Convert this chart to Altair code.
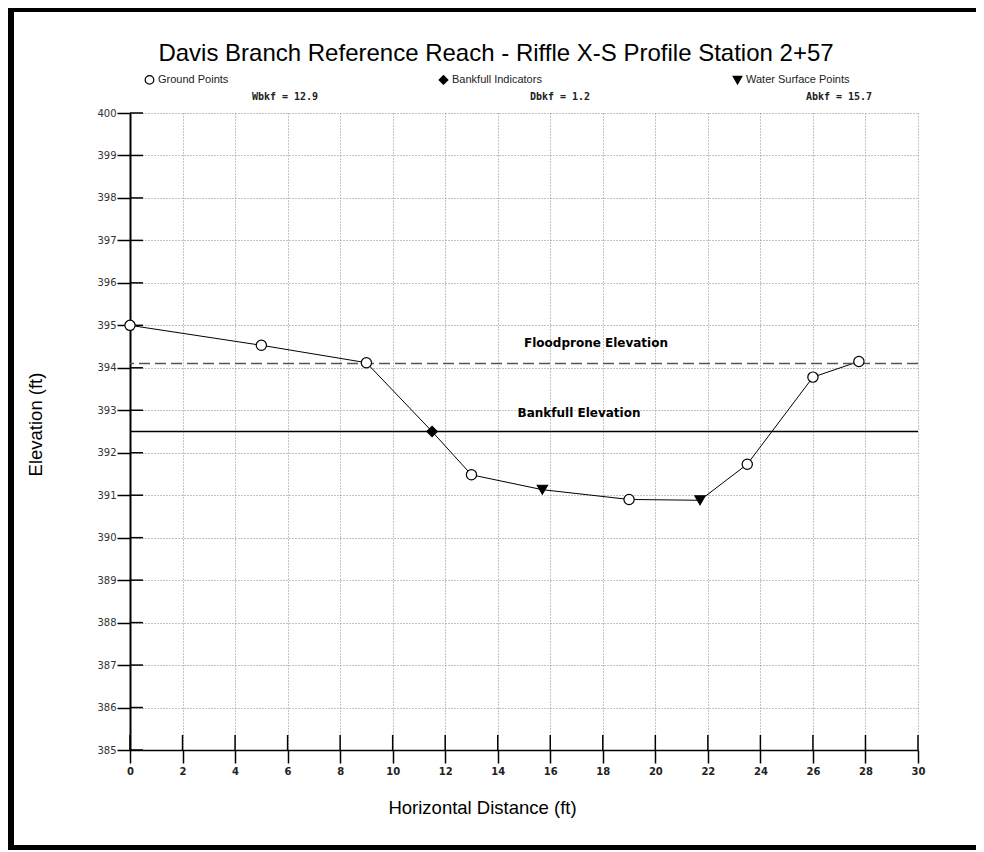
import altair as alt
import pandas as pd

# ---- data ----
station = [0, 5, 9, 11.5, 13.0, 15.7, 19.0, 21.7, 23.5, 26.0, 27.75]
elevation = [395.0, 394.53, 394.12, 392.5, 391.48, 391.13, 390.9, 390.88, 391.73, 393.78, 394.15]
point_type = ["Ground Points", "Ground Points", "Ground Points", "Bankfull Indicators",
              "Ground Points", "Water Surface Points", "Ground Points", "Water Surface Points",
              "Ground Points", "Ground Points", "Ground Points"]
legend_order = ["Ground Points", "Bankfull Indicators", "Water Surface Points"]
floodprone_elev = 394.1
bankfull_elev = 392.5
x_ticks = list(range(0, 31, 2))
y_ticks = list(range(385, 401))
stats = ["Wbkf = 12.9", "Dbkf = 1.2", "Abkf = 15.7"]
title_text = "Davis Branch Reference Reach - Riffle X-S Profile Station 2+57"

W, H = 788, 637
PAD = {"left": 122, "top": 105, "right": 58, "bottom": 100}

prof = pd.DataFrame({"station": station, "elevation": elevation, "type": point_type})

xs = alt.Scale(domain=[0, 30], nice=False, zero=False)
ys = alt.Scale(domain=[385, 400], nice=False, zero=False)

X_main = alt.X("station:Q", scale=xs, axis=alt.Axis(
    values=x_ticks, title="Horizontal Distance (ft)", grid=True,
    gridDash=[1, 2], gridColor="#888888", gridWidth=1,
    domainColor="black", domainWidth=1.5,
    tickColor="black", tickSize=13, tickWidth=1.5,
    labelPadding=3, labelFont="DejaVu Sans", labelFontSize=10, labelFontWeight="bold",
    labelColor="#222222", labelFlush=False,
    titleFont="Liberation Sans", titleFontSize=18.5, titleFontWeight="normal", titleColor="black",
    titleX=352, titleY=57, titleBaseline="middle"))
Y_main = alt.Y("elevation:Q", scale=ys, axis=alt.Axis(
    values=y_ticks, format="d", title="Elevation (ft)", grid=True,
    gridDash=[1, 2], gridColor="#888888", gridWidth=1,
    domainColor="black", domainWidth=2,
    tickColor="black", tickSize=13, tickWidth=1.5,
    labelPadding=1, labelFont="DejaVu Sans", labelFontSize=10,
    labelColor="#333333", labelFlush=False,
    titleFont="Liberation Sans", titleFontSize=18.5, titleFontWeight="normal", titleColor="black",
    titleX=-95, titleY=311, titleBaseline="middle", titleAngle=270))
X = alt.X("station:Q", scale=xs)
Y = alt.Y("elevation:Q", scale=ys)

line = alt.Chart(prof).mark_line(color="black", strokeWidth=1).encode(x=X_main, y=Y_main)

leg = alt.Legend(title=None, orient="none", legendX=14, legendY=-39, direction="horizontal",
                 columns=3, gridAlign="all", columnPadding=174,
                 labelFont="Liberation Sans", labelFontSize=11, labelColor="#222222",
                 symbolSize=75, symbolStrokeColor="black", symbolStrokeWidth=1.2, labelOffset=3)
points = alt.Chart(prof).mark_point(filled=True, stroke="black", strokeWidth=1.2, size=105, opacity=1).encode(
    x=X, y=Y,
    shape=alt.Shape("type:N", scale=alt.Scale(domain=legend_order,
                                              range=["circle", "diamond", "triangle-down"]), legend=leg),
    fill=alt.Fill("type:N", scale=alt.Scale(domain=legend_order,
                                            range=["white", "black", "black"]), legend=leg),
    stroke=alt.Stroke("type:N", scale=alt.Scale(domain=legend_order,
                                                range=["black", "black", "black"]), legend=leg),
)

flood_df = pd.DataFrame({"elevation": [floodprone_elev], "label": ["Floodprone Elevation"]})
bank_df = pd.DataFrame({"elevation": [bankfull_elev], "label": ["Bankfull Elevation"]})

flood_rule = alt.Chart(flood_df).mark_rule(color="#555555", strokeWidth=1.6, strokeDash=[11, 5]).encode(y=Y)
bank_rule = alt.Chart(bank_df).mark_rule(color="black", strokeWidth=1.5).encode(y=Y)

flood_lbl = alt.Chart(flood_df).mark_text(font="DejaVu Sans", fontSize=12, fontWeight="bold",
                                          color="black", dy=-21).encode(
    y=Y, x=alt.value(466), text="label:N")
bank_lbl = alt.Chart(bank_df).mark_text(font="DejaVu Sans", fontSize=12, fontWeight="bold",
                                        color="black", dy=-19).encode(
    y=Y, x=alt.value(449), text="label:N")

# inward halves of the ticks
ytick_in = alt.Chart(pd.DataFrame({"elevation": y_ticks})).mark_rule(color="black", strokeWidth=1.5).encode(
    y=Y, x=alt.value(0), x2=alt.value(13))
xtick_in = alt.Chart(pd.DataFrame({"station": x_ticks})).mark_rule(color="black", strokeWidth=1.5).encode(
    x=X, y=alt.value(H - 15), y2=alt.value(H))

stat_x = [155, 430, 709]
stat_layers = [
    alt.Chart(pd.DataFrame({"t": [s]})).mark_text(font="DejaVu Sans Mono", fontSize=10, fontWeight="bold",
                                                  color="#222222", baseline="middle").encode(
        x=alt.value(px), y=alt.value(-16), text="t:N")
    for s, px in zip(stats, stat_x)
]

# outer frame bands
frame_l = alt.Chart(pd.DataFrame({"a": [0]})).mark_rule(color="black", strokeWidth=6).encode(
    x=alt.value(-119), y=alt.value(-105), y2=alt.value(H + PAD["bottom"]))
frame_t = alt.Chart(pd.DataFrame({"a": [0]})).mark_rule(color="black", strokeWidth=4).encode(
    y=alt.value(-103), x=alt.value(-122), x2=alt.value(W + PAD["right"]))
frame_b = alt.Chart(pd.DataFrame({"a": [0]})).mark_rule(color="black", strokeWidth=5).encode(
    y=alt.value(H + 97.5), x=alt.value(-122), x2=alt.value(W + PAD["right"]))

chart = alt.layer(
    line, flood_rule, bank_rule, ytick_in, xtick_in, flood_lbl, bank_lbl, points,
    *stat_layers, frame_l, frame_t, frame_b
).properties(
    width=W, height=H,
    padding=PAD,
    autosize=alt.AutoSizeParams(type="none"),
    background="white",
    title=alt.TitleParams(text=title_text, font="Liberation Sans", fontSize=24, fontWeight="normal",
                          color="black", anchor="middle", frame="group", dx=-28, offset=0, dy=73,
                          baseline="middle"),
).configure_view(stroke=None)

chart.save("out.html", embed_options={"renderer": "svg", "actions": False})
